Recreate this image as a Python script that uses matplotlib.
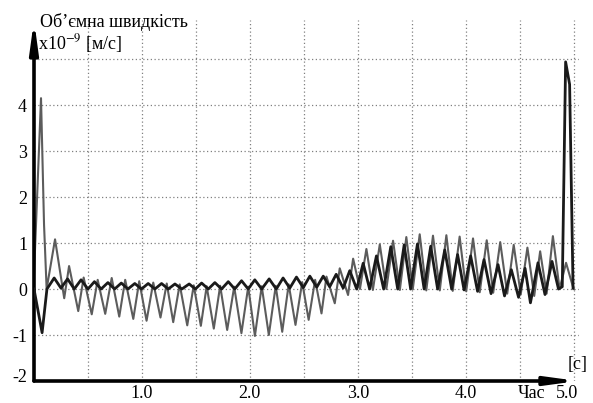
import matplotlib.pyplot as plt
from matplotlib.transforms import ScaledTranslation

# тонка сіра крива (пік на початку)
t_thin = [0.0, 0.065, 0.093, 0.117, 0.195, 0.28, 0.325, 0.41, 0.46, 0.535,
          0.59, 0.66, 0.72, 0.79, 0.845, 0.92, 0.975, 1.043, 1.105, 1.172,
          1.23, 1.29, 1.35, 1.42, 1.48, 1.546, 1.6, 1.666, 1.725, 1.79,
          1.855, 1.922, 1.985, 2.047, 2.11, 2.176, 2.24, 2.30, 2.36, 2.423,
          2.485, 2.545, 2.605, 2.664, 2.71, 2.787, 2.833, 2.91, 2.957, 3.02,
          3.08, 3.14, 3.204, 3.265, 3.327, 3.39, 3.45, 3.51, 3.574, 3.635,
          3.697, 3.76, 3.821, 3.88, 3.944, 4.005, 4.068, 4.13, 4.195, 4.255,
          4.32, 4.385, 4.445, 4.51, 4.572, 4.635, 4.69, 4.75, 4.808, 4.87,
          4.93, 5.0]
v_thin = [0.3, 4.15, 1.4, 0.0, 1.08, -0.2, 0.5, -0.48, 0.25, -0.55,
          0.2, -0.54, 0.24, -0.6, 0.2, -0.65, 0.17, -0.69, 0.14, -0.62,
          0.12, -0.72, 0.1, -0.79, 0.08, -0.8, 0.06, -0.86, 0.07, -0.89,
          0.05, -0.96, 0.05, -1.02, 0.06, -1.0, 0.07, -0.93, 0.1, -0.78,
          0.15, -0.67, 0.2, -0.53, 0.27, -0.31, 0.45, -0.13, 0.66, 0.0,
          0.87, -0.02, 0.97, 0.0, 1.05, -0.02, 1.13, 0.0, 1.19, -0.03,
          1.16, -0.03, 1.17, -0.04, 1.14, -0.05, 1.1, -0.07, 1.06, -0.08,
          1.02, -0.1, 0.96, -0.12, 0.9, -0.15, 0.82, -0.1, 1.15, 0.0,
          0.57, 0.0]

# товста темна крива (пік в кінці)
t_thick = [0.0, 0.075, 0.12, 0.187, 0.25, 0.311, 0.373, 0.436, 0.5, 0.56,
           0.622, 0.685, 0.747, 0.809, 0.87, 0.934, 0.996, 1.058, 1.12, 1.182,
           1.244, 1.306, 1.37, 1.438, 1.495, 1.553, 1.615, 1.676, 1.738, 1.8,
           1.86, 1.923, 1.985, 2.046, 2.11, 2.179, 2.245, 2.308, 2.37, 2.432,
           2.495, 2.556, 2.62, 2.68, 2.74, 2.80, 2.865, 2.926, 2.99, 3.05,
           3.11, 3.173, 3.24, 3.306, 3.37, 3.43, 3.49, 3.553, 3.615, 3.676,
           3.74, 3.806, 3.87, 3.925, 3.985, 4.046, 4.11, 4.17, 4.235, 4.3,
           4.36, 4.423, 4.49, 4.55, 4.6, 4.67, 4.735, 4.8, 4.86, 4.895,
           4.926, 4.963, 4.995]
v_thick = [0.0, -0.95, 0.0, 0.24, 0.02, 0.22, 0.0, 0.2, 0.0, 0.16,
           0.0, 0.14, 0.0, 0.13, 0.0, 0.12, 0.0, 0.12, 0.0, 0.12,
           0.0, 0.11, 0.0, 0.11, 0.0, 0.13, 0.0, 0.14, 0.0, 0.16,
           0.0, 0.18, 0.0, 0.2, 0.0, 0.22, 0.0, 0.24, 0.02, 0.26,
           0.03, 0.28, 0.04, 0.28, 0.05, 0.32, 0.02, 0.4, 0.0, 0.56,
           0.0, 0.72, 0.0, 0.92, 0.0, 0.96, 0.0, 0.98, 0.0, 0.93,
           0.0, 0.85, 0.0, 0.75, -0.02, 0.72, -0.05, 0.64, -0.1, 0.53,
           -0.15, 0.42, -0.18, 0.45, -0.3, 0.57, -0.12, 0.6, 0.0, 0.05,
           4.94, 4.45, 0.02]

x_grid = [0.5, 1.0, 1.5, 2.0, 2.5, 3.0, 3.5, 4.0, 4.5, 5.0]
y_grid = [-1, 0, 1, 2, 3, 4, 5]
x_ticks = [1.0, 2.0, 3.0, 4.0, 5.0]
x_labels = ['1.0', '2.0', '3.0', '4.0', '5.0']
y_ticks = [-2, -1, 0, 1, 2, 3, 4]
y_labels = ['-2', '-1', '0', '1', '2', '3', '4']

plt.rcParams['font.family'] = ['Liberation Serif', 'DejaVu Serif']
plt.rcParams['mathtext.fontset'] = 'stix'

W, H = 593, 403
fig = plt.figure(figsize=(W / 100, H / 100), dpi=100)
ax = fig.add_axes([34 / W, 22 / H, 545 / W, 361 / H])
ax.set_xlim(0, 5.05)
ax.set_ylim(-2, 5.85)

# сітка
for gx in x_grid:
    ax.axvline(gx, color='#808080', lw=0.9, ls=(0, (1, 2)), zorder=1)
for gy in y_grid:
    ax.axhline(gy, color='#808080', lw=0.9, ls=(0, (1, 2)), zorder=1)

ax.plot(t_thin, v_thin, color='#5c5c5c', lw=1.5, zorder=3,
        solid_joinstyle='round')
ax.plot(t_thick, v_thick, color='#1a1a1a', lw=2.0, zorder=4,
        solid_joinstyle='round')

for s in ax.spines.values():
    s.set_visible(False)

ax.set_xticks(x_ticks)
ax.set_xticklabels(x_labels)
ax.set_yticks(y_ticks)
ax.set_yticklabels(y_labels)
ax.tick_params(length=0, labelsize=13)
ax.tick_params(axis='x', pad=3)
ax.tick_params(axis='y', pad=5)

# зсув підписів "-2" та "5.0"
lbl = ax.get_yticklabels()[0]
lbl.set_transform(lbl.get_transform() + ScaledTranslation(0, 5 / 100, fig.dpi_scale_trans))
lbl = ax.get_xticklabels()[-1]
lbl.set_transform(lbl.get_transform() + ScaledTranslation(-7 / 100, 0, fig.dpi_scale_trans))

# осі зі стрілками
arrow = dict(arrowstyle='-|>,head_length=1.1,head_width=0.15', lw=2.6,
             color='black', mutation_scale=16, shrinkA=0, shrinkB=0)
ax.annotate('', xy=(0, 5.85), xytext=(0, -2), arrowprops=arrow,
            annotation_clip=False)
ax.annotate('', xy=(5.04, -2), xytext=(0, -2), arrowprops=arrow,
            annotation_clip=False)

fig.text(40 / W, 1 - 22 / H, 'Об’ємна швидкість', fontsize=13, va='center')
fig.text(38 / W, 1 - 44 / H, 'x10$^{-9}$ [м/с]', fontsize=13, va='center')
fig.text(532 / W, 1 - 393 / H, 'Час', fontsize=13, va='center', ha='center')
fig.text(578 / W, 1 - 365 / H, '[с]', fontsize=13, va='center', ha='center')

fig.savefig('out.png', dpi=100)
